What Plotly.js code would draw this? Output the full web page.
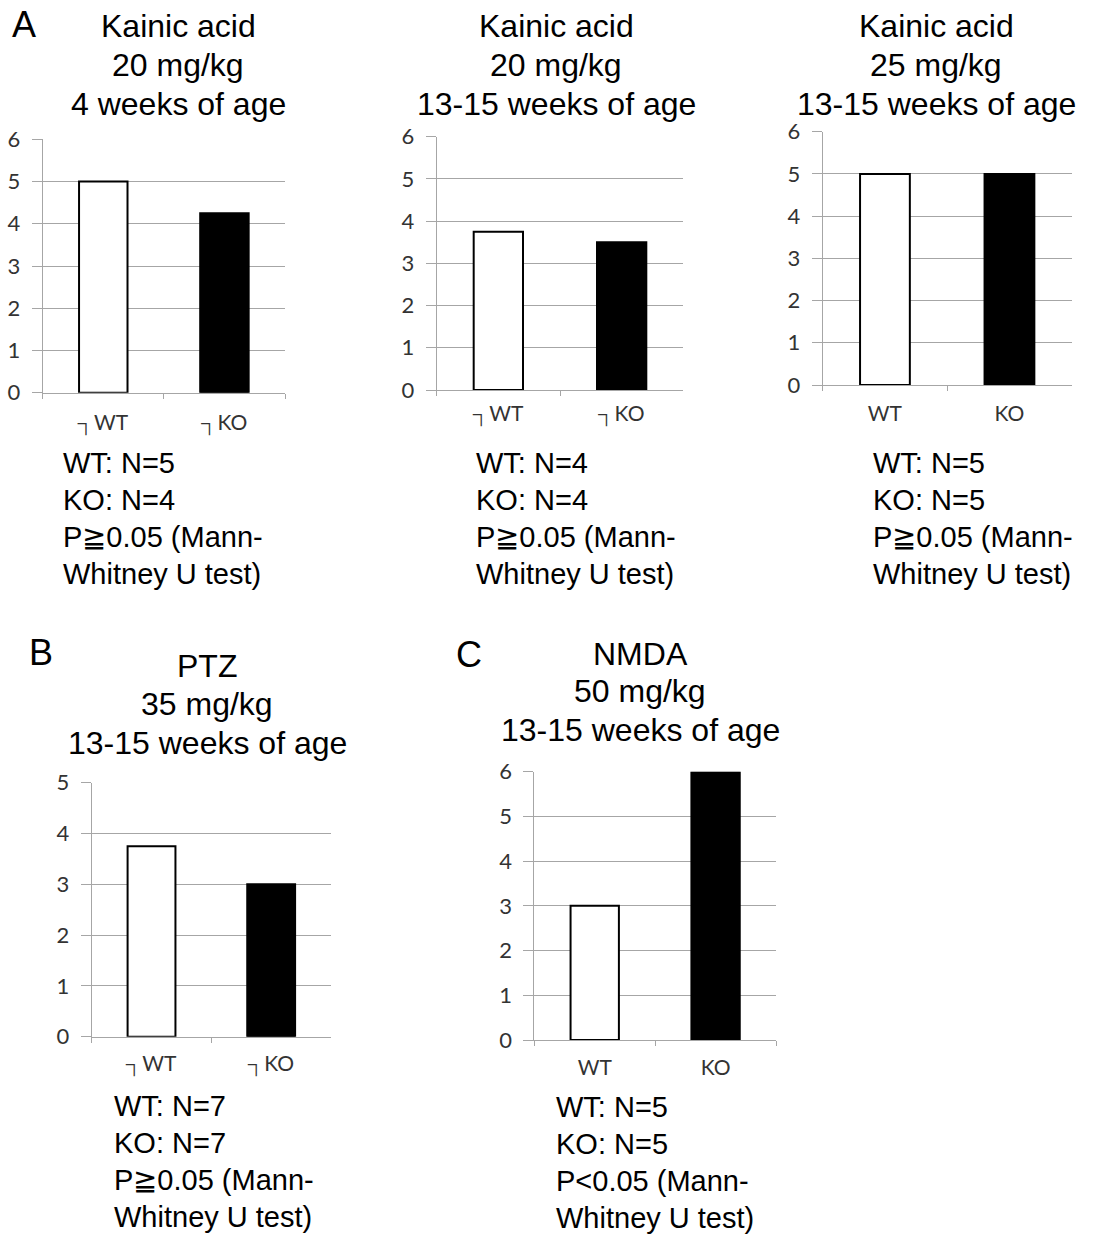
<!DOCTYPE html>
<html>
<head>
<meta charset="utf-8">
<script src="https://cdn.plot.ly/plotly-3.0.1.min.js"></script>
<style>html,body{margin:0;padding:0;background:#fff;}#chart{width:1096px;height:1235px;}</style>
</head>
<body>
<div id="chart"></div>
<script>
// ---- data ----
const groups = ['WT', 'KO'];
const ticksBroken = ['┐WT', '┐KO'];
const ticksPlain = ['WT', 'KO'];
const kainic20wk4 = [5, 4.25];
const kainic20wk13 = [3.75, 3.5];
const kainic25wk13 = [5, 5];
const ptz35wk13 = [3.75, 3];
const nmda50wk13 = [3, 6];

const titles = [
  ['Kainic acid', '20 mg/kg', '4 weeks of age'],
  ['Kainic acid', '20 mg/kg', '13-15 weeks of age'],
  ['Kainic acid', '25 mg/kg', '13-15 weeks of age'],
  ['PTZ', '35 mg/kg', '13-15 weeks of age'],
  ['NMDA', '50 mg/kg', '13-15 weeks of age']
];
const stats = [
  ['WT: N=5', 'KO: N=4', 'P≧0.05 (Mann-', 'Whitney U test)'],
  ['WT: N=4', 'KO: N=4', 'P≧0.05 (Mann-', 'Whitney U test)'],
  ['WT: N=5', 'KO: N=5', 'P≧0.05 (Mann-', 'Whitney U test)'],
  ['WT: N=7', 'KO: N=7', 'P≧0.05 (Mann-', 'Whitney U test)'],
  ['WT: N=5', 'KO: N=5', 'P<0.05 (Mann-', 'Whitney U test)']
];
const panelLetters = ['A', 'B', 'C'];

// ---- layout geometry (pixels) ----
const W = 1096, H = 1235;
const panels = [
  {vals: kainic20wk4, labels: ticksBroken, x: [42.7, 285], y: [139.3, 392.7], ymax: 6, lab: 34, tx: 178, ty: [26, 65, 104], sx: 61, sy: 463, sd: 37},
  {vals: kainic20wk13, labels: ticksBroken, x: [436.7, 683.3], y: [136.7, 390], ymax: 6, lab: 28, tx: 556, ty: [26, 65, 104], sx: 474, sy: 463, sd: 37},
  {vals: kainic25wk13, labels: ticksPlain, x: [822.7, 1071.7], y: [131.7, 385], ymax: 6, lab: 33, tx: 936, ty: [26, 65, 104], sx: 871, sy: 463, sd: 37},
  {vals: ptz35wk13, labels: ticksBroken, x: [91.7, 331], y: [782.7, 1036.7], ymax: 5, lab: 31, tx: 207, ty: [666, 704, 743], sx: 112, sy: 1106, sd: 37},
  {vals: nmda50wk13, labels: ticksPlain, x: [534.3, 776], y: [771.7, 1040], ymax: 6, lab: 32, tx: 640, ty: [654, 691, 730], sx: 554, sy: 1107, sd: 37}
];
const letterPos = [[24, 25], [41, 652], [469, 654]];

const grid = '#a6a6a6';
const tickFont = {family: 'Lato, "Open Sans", sans-serif', size: 22, color: '#333'};
const family = '"Liberation Sans", Arial, sans-serif';

const data = [];
const layout = {
  width: W, height: H,
  margin: {l: 0, r: 0, t: 0, b: 0},
  paper_bgcolor: '#fff', plot_bgcolor: '#fff',
  showlegend: false,
  annotations: [],
  font: tickFont
};

panels.forEach((p, i) => {
  const n = i + 1;
  const xa = n === 1 ? 'x' : 'x' + n;
  const ya = n === 1 ? 'y' : 'y' + n;
  data.push({
    type: 'bar', x: p.labels, y: p.vals, xaxis: xa, yaxis: ya,
    width: 0.4,
    marker: {color: ['#ffffff', '#000000'], line: {color: '#000', width: 2}},
    cliponaxis: false, hoverinfo: 'skip'
  });
  layout['xaxis' + (n === 1 ? '' : n)] = {
    domain: [p.x[0] / W, p.x[1] / W], anchor: ya,
    type: 'category', showgrid: false, zeroline: false,
    showline: true, linecolor: grid, linewidth: 1,
    ticks: 'outside', tickson: 'boundaries', ticklen: 5, tickcolor: grid,
    ticklabelstandoff: p.lab - 23,
    tickfont: {family: tickFont.family, size: 21, color: '#333'}, fixedrange: true
  };
  layout['yaxis' + (n === 1 ? '' : n)] = {
    domain: [1 - p.y[1] / H, 1 - p.y[0] / H], anchor: xa,
    range: [0, p.ymax], dtick: 1, tick0: 0,
    showgrid: true, gridcolor: grid, gridwidth: 1, zeroline: false,
    showline: true, linecolor: grid, linewidth: 1,
    ticks: 'outside', ticklen: 10, tickcolor: grid,
    ticklabelstandoff: 7,
    tickfont: tickFont, fixedrange: true
  };
  titles[i].forEach((t, k) => {
    layout.annotations.push({
      xref: 'paper', yref: 'paper', x: p.tx / W, y: 1 - p.ty[k] / H,
      xanchor: 'center', yanchor: 'middle', align: 'center', showarrow: false,
      text: t, font: {family: family, size: 32, color: '#000'}
    });
  });
  stats[i].forEach((t, k) => {
    layout.annotations.push({
      xref: 'paper', yref: 'paper', x: p.sx / W, y: 1 - (p.sy + k * p.sd) / H,
      xanchor: 'left', yanchor: 'middle', align: 'left', showarrow: false,
      text: t, font: {family: family, size: 29, color: '#000'}
    });
  });
});
panelLetters.forEach((L, i) => {
  layout.annotations.push({
    xref: 'paper', yref: 'paper', x: letterPos[i][0] / W, y: 1 - letterPos[i][1] / H,
    xanchor: 'center', yanchor: 'middle', showarrow: false,
    text: L, font: {family: family, size: 36, color: '#000'}
  });
});

Plotly.newPlot('chart', data, layout, {staticPlot: true, displayModeBar: false});
</script>
</body>
</html>
